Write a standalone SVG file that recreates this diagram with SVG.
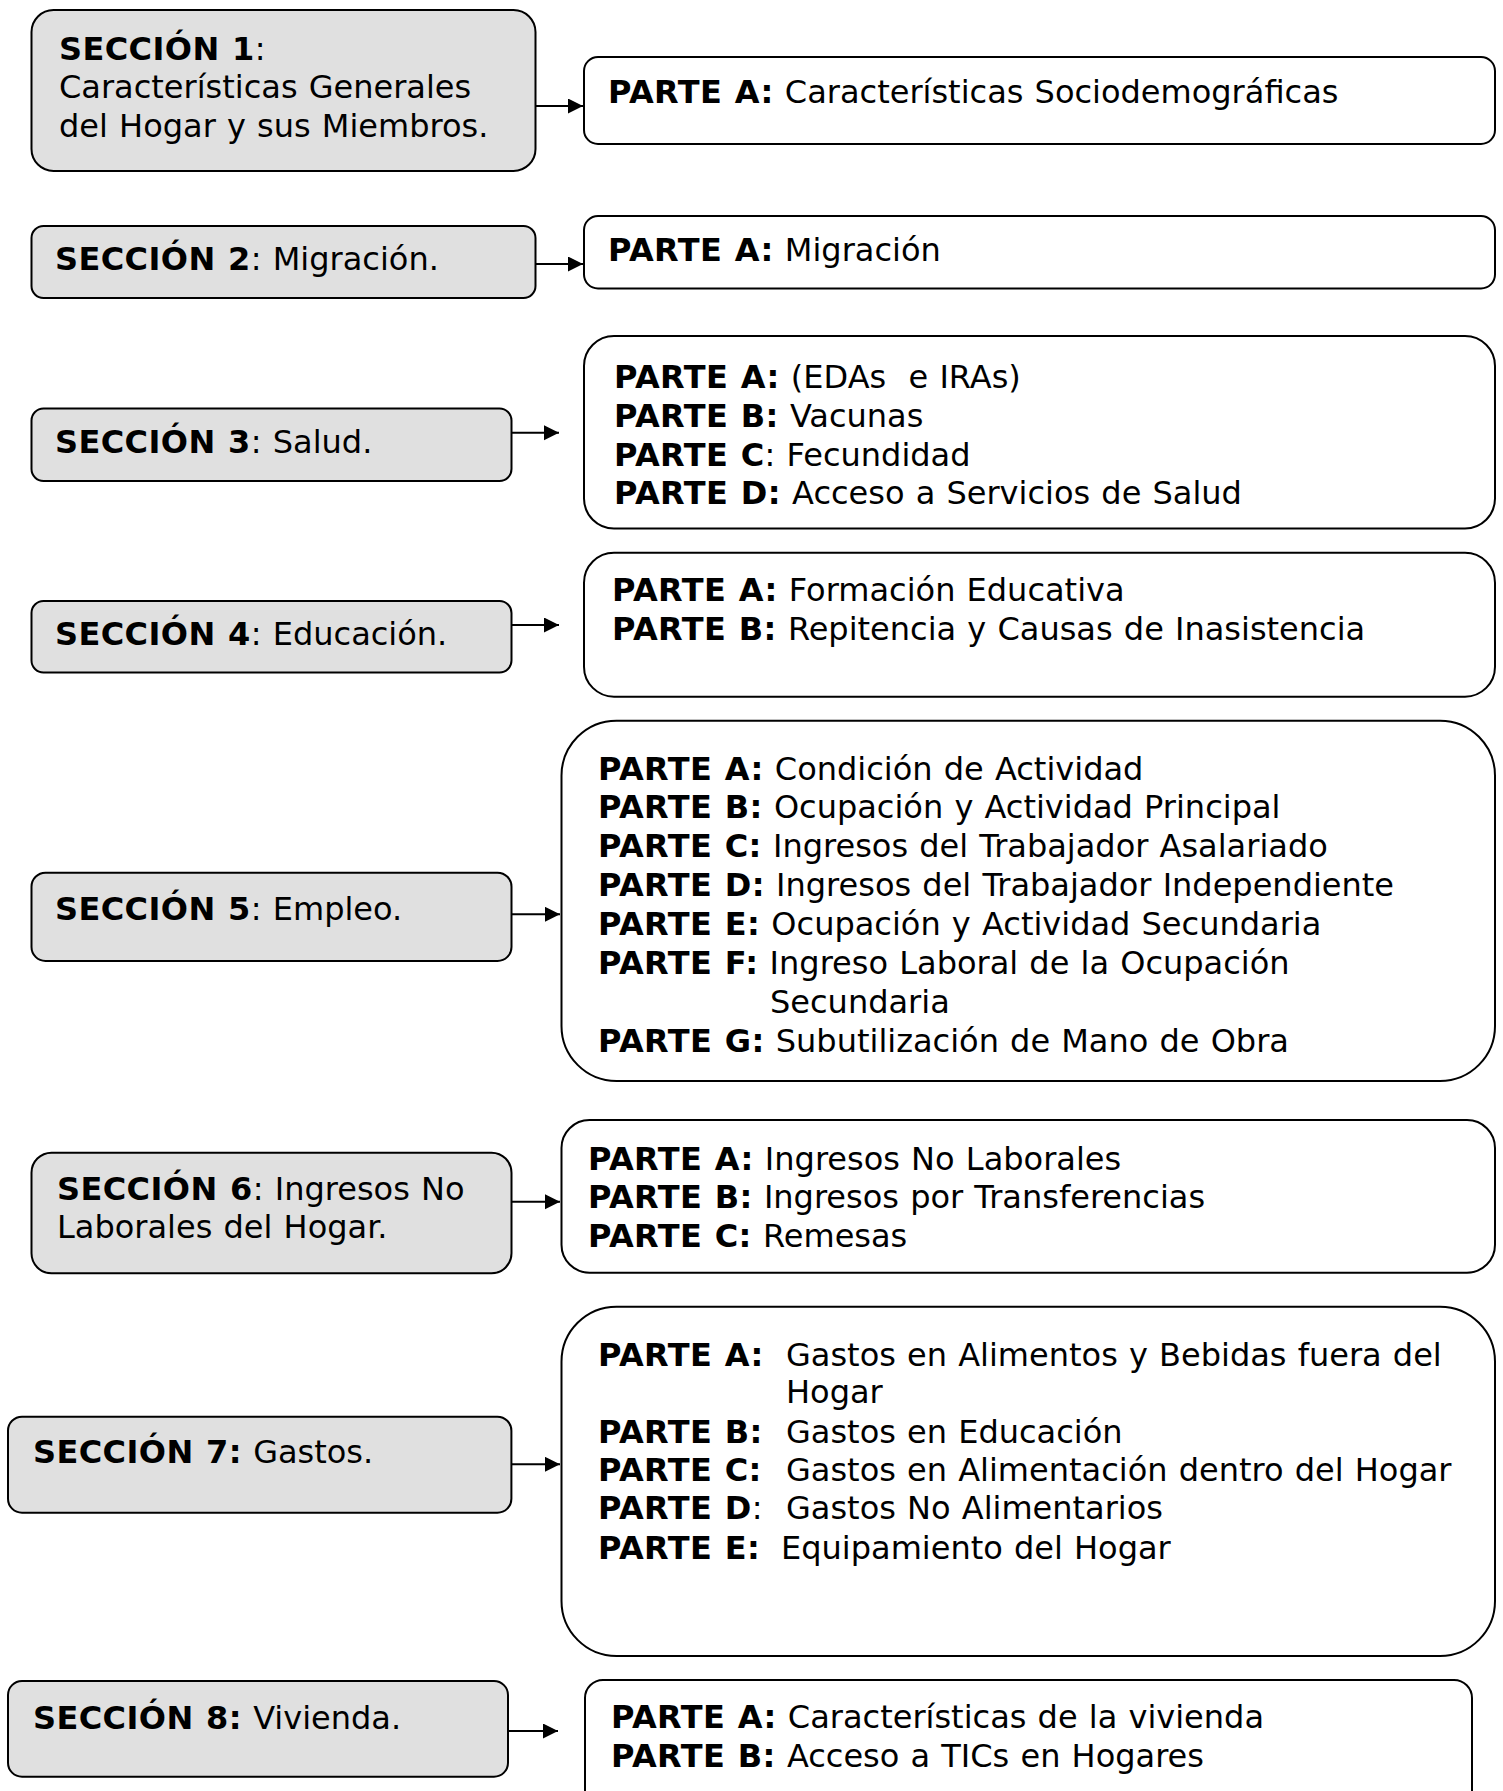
<svg xmlns="http://www.w3.org/2000/svg" width="1503" height="1791" viewBox="0 0 1503 1791">
<style>
.sec{fill:#e0e0e0;stroke:#000;stroke-width:2}
.part{fill:#fff;stroke:#000;stroke-width:2}
text{font-family:"DejaVu Sans",Verdana,sans-serif;font-size:32px;word-spacing:1px;fill:#000;white-space:pre}
.b{font-weight:bold;letter-spacing:0.4px}
.conn{stroke:#000;stroke-width:2;fill:none}
</style>
<defs>
<marker id="ah" markerUnits="userSpaceOnUse" markerWidth="16" markerHeight="16" refX="15" refY="7.5" orient="auto">
<path d="M0,0 L15,7.5 L0,15 z" fill="#000"/>
</marker>
</defs>
<rect width="1503" height="1791" fill="#fff"/>

<g id="sec1">
<rect class="sec" x="31.5" y="10" width="504" height="161" rx="22"/>
<text x="59" y="60"><tspan class="b">SECCIÓN 1</tspan>:</text>
<text x="59" y="97.5">Características Generales</text>
<text x="59" y="136.5">del Hogar y sus Miembros.</text>
</g>
<g id="part1">
<rect class="part" x="584" y="57" width="911" height="87" rx="14"/>
<text x="608" y="102.5"><tspan class="b">PARTE A:</tspan> Características Sociodemográficas</text>
</g>

<g id="sec2">
<rect class="sec" x="31.5" y="226" width="504" height="72" rx="12"/>
<text x="55" y="269.5"><tspan class="b">SECCIÓN 2</tspan>: Migración.</text>
</g>
<g id="part2">
<rect class="part" x="584" y="216" width="911" height="72.5" rx="14"/>
<text x="608" y="261"><tspan class="b">PARTE A:</tspan> Migración</text>
</g>

<g id="sec3">
<rect class="sec" x="31.5" y="408.5" width="480" height="72.5" rx="12"/>
<text x="55" y="453"><tspan class="b">SECCIÓN 3</tspan>: Salud.</text>
</g>
<g id="part3">
<rect class="part" x="584" y="336" width="911" height="192.5" rx="30"/>
<text x="614" y="388.3"><tspan class="b">PARTE A:</tspan> (EDAs  e IRAs)</text>
<text x="614" y="427"><tspan class="b">PARTE B:</tspan> Vacunas</text>
<text x="614" y="465.7"><tspan class="b">PARTE C</tspan>: Fecundidad</text>
<text x="614" y="504.3"><tspan class="b">PARTE D:</tspan> Acceso a Servicios de Salud</text>
</g>

<g id="sec4">
<rect class="sec" x="31.5" y="601" width="480" height="71.5" rx="12"/>
<text x="55" y="644.7"><tspan class="b">SECCIÓN 4</tspan>: Educación.</text>
</g>
<g id="part4">
<rect class="part" x="584" y="552.7" width="911" height="144" rx="30"/>
<text x="612" y="601"><tspan class="b">PARTE A:</tspan> Formación Educativa</text>
<text x="612" y="639.5"><tspan class="b">PARTE B:</tspan> Repitencia y Causas de Inasistencia</text>
</g>

<g id="sec5">
<rect class="sec" x="31.5" y="872.7" width="480" height="88.3" rx="14"/>
<text x="55" y="919.5"><tspan class="b">SECCIÓN 5</tspan>: Empleo.</text>
</g>
<g id="part5">
<rect class="part" x="561.5" y="720.7" width="933.5" height="360.3" rx="55"/>
<text x="598" y="779.5"><tspan class="b">PARTE A:</tspan> Condición de Actividad</text>
<text x="598" y="818.4"><tspan class="b">PARTE B:</tspan> Ocupación y Actividad Principal</text>
<text x="598" y="857.3"><tspan class="b">PARTE C:</tspan> Ingresos del Trabajador Asalariado</text>
<text x="598" y="896.2"><tspan class="b">PARTE D:</tspan> Ingresos del Trabajador Independiente</text>
<text x="598" y="935.1"><tspan class="b">PARTE E:</tspan> Ocupación y Actividad Secundaria</text>
<text x="598" y="974"><tspan class="b">PARTE F:</tspan> Ingreso Laboral de la Ocupación</text>
<text x="770" y="1012.9">Secundaria</text>
<text x="598" y="1051.8"><tspan class="b">PARTE G:</tspan> Subutilización de Mano de Obra</text>
</g>

<g id="sec6">
<rect class="sec" x="31.5" y="1152.7" width="480" height="120.6" rx="20"/>
<text x="57" y="1200"><tspan class="b">SECCIÓN 6</tspan>: Ingresos No</text>
<text x="57" y="1237.7">Laborales del Hogar.</text>
</g>
<g id="part6">
<rect class="part" x="561.5" y="1120" width="933.5" height="152.7" rx="28"/>
<text x="588" y="1169.5"><tspan class="b">PARTE A:</tspan> Ingresos No Laborales</text>
<text x="588" y="1208"><tspan class="b">PARTE B:</tspan> Ingresos por Transferencias</text>
<text x="588" y="1247"><tspan class="b">PARTE C:</tspan> Remesas</text>
</g>

<g id="sec7">
<rect class="sec" x="8" y="1416.7" width="503.4" height="96" rx="14"/>
<text x="33" y="1462.5"><tspan class="b">SECCIÓN 7:</tspan> Gastos.</text>
</g>
<g id="part7">
<rect class="part" x="561.5" y="1306.7" width="933.5" height="349.3" rx="55"/>
<text x="598" y="1366" class="b">PARTE A:</text>
<text x="786" y="1366">Gastos en Alimentos y Bebidas fuera del</text>
<text x="786" y="1403">Hogar</text>
<text x="598" y="1442.5" class="b">PARTE B:</text>
<text x="786" y="1442.5">Gastos en Educación</text>
<text x="598" y="1481" class="b">PARTE C:</text>
<text x="786" y="1481">Gastos en Alimentación dentro del Hogar</text>
<text x="598" y="1519"><tspan class="b">PARTE D</tspan>:</text>
<text x="786" y="1519">Gastos No Alimentarios</text>
<text x="598" y="1558.5" class="b">PARTE E:</text>
<text x="781" y="1558.5">Equipamiento del Hogar</text>
</g>

<g id="sec8">
<rect class="sec" x="8" y="1681" width="500" height="95.7" rx="14"/>
<text x="33" y="1728.5"><tspan class="b">SECCIÓN 8:</tspan> Vivienda.</text>
</g>
<g id="part8">
<rect class="part" x="585" y="1680" width="887" height="140" rx="18"/>
<text x="611" y="1728.3"><tspan class="b">PARTE A:</tspan> Características de la vivienda</text>
<text x="611" y="1766.7"><tspan class="b">PARTE B:</tspan> Acceso a TICs en Hogares</text>
</g>

<g id="connectors">
<line class="conn" x1="536" y1="106" x2="583" y2="106" marker-end="url(#ah)"/>
<line class="conn" x1="536" y1="264" x2="583" y2="264" marker-end="url(#ah)"/>
<line class="conn" x1="512" y1="432.7" x2="559" y2="432.7" marker-end="url(#ah)"/>
<line class="conn" x1="512" y1="625" x2="559" y2="625" marker-end="url(#ah)"/>
<line class="conn" x1="512" y1="914.3" x2="560" y2="914.3" marker-end="url(#ah)"/>
<line class="conn" x1="512" y1="1201.7" x2="560" y2="1201.7" marker-end="url(#ah)"/>
<line class="conn" x1="512" y1="1464.3" x2="560" y2="1464.3" marker-end="url(#ah)"/>
<line class="conn" x1="509" y1="1731" x2="558" y2="1731" marker-end="url(#ah)"/>
</g>
</svg>
